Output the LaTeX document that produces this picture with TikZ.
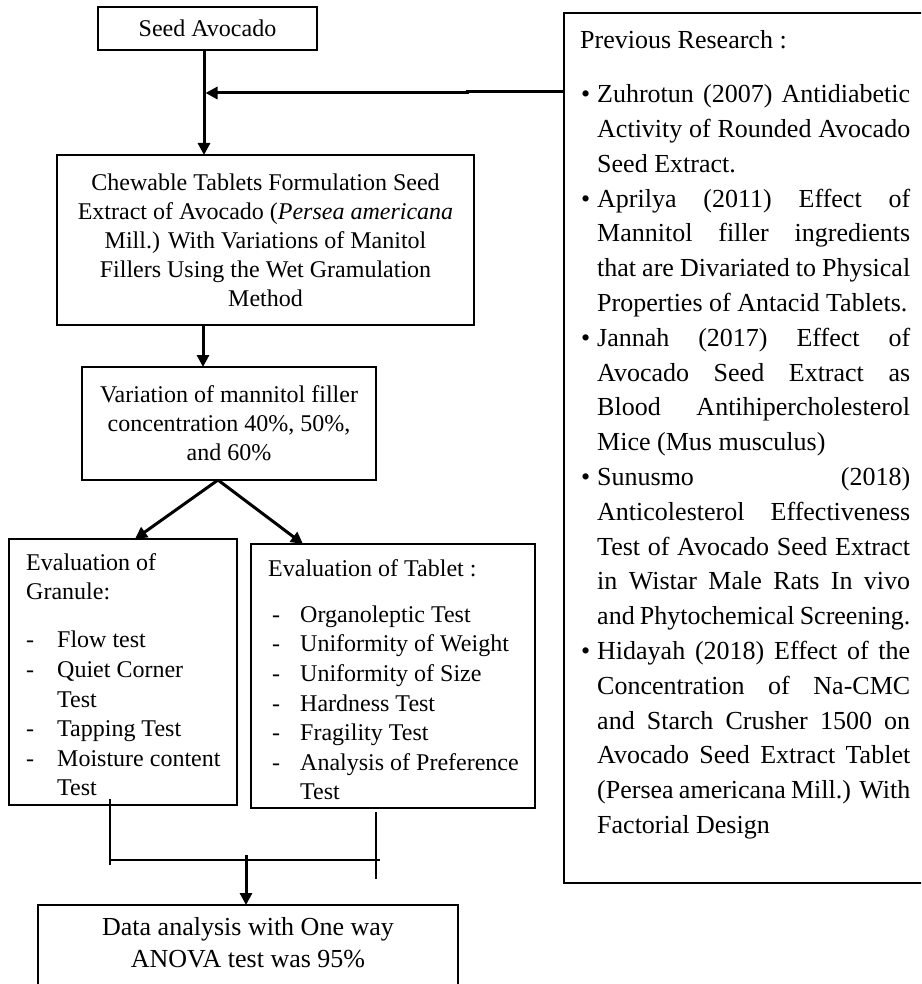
\documentclass[tikz,border=0pt]{standalone}
\usepackage{fontspec}
\setmainfont{Liberation Serif}
\usetikzlibrary{arrows.meta}
\newcommand\bitem{\hangindent=17pt\hangafter=1\noindent\makebox[17pt][l]{\hspace{1pt}\textbullet}}
\begin{document}
\begin{tikzpicture}[x=1pt,y=-1pt,
  box/.style={draw, line width=1.5pt, inner sep=0pt, outer sep=0pt},
  ctext/.style={align=center, font=\fontsize{24}{29}\selectfont},
  ltext/.style={inner sep=0pt, anchor=north west, align=left, font=\fontsize{24}{29.6}\selectfont},
  arr/.style={line width=3pt, -{Triangle[length=12pt,width=12pt]}},
  thinline/.style={line width=1.3pt}]
\clip (0,0) rectangle (921,984);
% boxes
\node[box, minimum width=219pt, minimum height=43pt, ctext] (seed) at (207.5,28.5) {Seed Avocado};
\node[box, minimum width=417pt, minimum height=170pt, ctext] (chew) at (265.5,240)
  {Chewable Tablets Formulation Seed\\ Extract of Avocado (\textit{Persea americana}\\ Mill.) With Variations of Manitol\\ Fillers Using the Wet Gramulation\\ Method};
\node[box, minimum width=294pt, minimum height=113pt, ctext] (var) at (229,423.5)
  {Variation of mannitol filler\\ concentration 40\%, 50\%,\\ and 60\%};
\node[box, minimum width=228pt, minimum height=266pt] (gran) at (123,672) {};
\node[box, minimum width=284pt, minimum height=264pt] (tab) at (393,676) {};
\node[box, minimum width=420pt, minimum height=100pt] (data) at (248,955) {};
\node[box, minimum width=420pt, minimum height=870pt] (prev) at (774,448) {};
% texts
\node[ltext] (grant) at (26,550) {\rule{0pt}{20pt}Evaluation of\\ Granule:\\[18.4pt]
  \makebox[31pt][l]{-}Flow test\\
  \makebox[31pt][l]{-}Quiet Corner\\
  \hspace*{31pt}Test\\
  \makebox[31pt][l]{-}Tapping Test\\
  \makebox[31pt][l]{-}Moisture content\\
  \hspace*{31pt}Test};
\node[ltext] (tabt) at (268,556) {\rule{0pt}{20pt}Evaluation of Tablet :\\[16.4pt]
  \makebox[32pt][l]{\hspace{4pt}-}Organoleptic Test\\
  \makebox[32pt][l]{\hspace{4pt}-}Uniformity of Weight\\
  \makebox[32pt][l]{\hspace{4pt}-}Uniformity of Size\\
  \makebox[32pt][l]{\hspace{4pt}-}Hardness Test\\
  \makebox[32pt][l]{\hspace{4pt}-}Fragility Test\\
  \makebox[32pt][l]{\hspace{4pt}-}Analysis of Preference\\
  \hspace*{32pt}Test};
\node[align=center, inner sep=0pt, font=\fontsize{26}{32}\selectfont] (datat) at (248,943)
  {Data analysis with One way\\ ANOVA test was 95\%};
\node[inner sep=0pt, anchor=north west, text width=330pt, align=justify,
      font=\fontsize{26}{34.8}\selectfont] (prevt) at (580,28.5) {%
  \setlength\parindent{0pt}\hyphenpenalty=10000 \tolerance=10000
  \rule{0pt}{20pt}Previous Research :\par
  \vspace{19.2pt}
  \bitem Zuhrotun (2007) Antidiabetic\linebreak Activity of Rounded Avocado\linebreak Seed Extract.\par
  \bitem Aprilya (2011) Effect of\linebreak Mannitol filler ingredients\linebreak that are Divariated to Physical\linebreak Properties of Antacid Tablets.\par
  \bitem Jannah (2017) Effect of\linebreak Avocado Seed Extract as\linebreak Blood Antihipercholesterol\linebreak Mice (Mus musculus)\par
  \bitem Sunusmo (2018)\linebreak Anticolesterol Effectiveness\linebreak Test of Avocado Seed Extract\linebreak in Wistar Male Rats In vivo\linebreak and Phytochemical Screening.\par
  \bitem Hidayah (2018) Effect of the\linebreak Concentration of Na-CMC\linebreak and Starch Crusher 1500 on\linebreak Avocado Seed Extract Tablet\linebreak (Persea americana Mill.) With\linebreak Factorial Design\par};
% connectors
\coordinate (join) at (205.5,93);
\draw[arr] ([xshift=-3.5pt]seed.south) -- ([xshift=-3.5pt]seed.south |- chew.north);
\draw[arr] (prev.west |- 0,91.5) -- (467,91.5) -- (467,93) -- (join);
\draw[arr] ([xshift=-62.5pt]chew.south) -- ([xshift=-62.5pt]chew.south |- var.north);
\draw[arr] ([xshift=-11pt]var.south) -- ([xshift=12pt]gran.north);
\draw[arr] ([xshift=-11pt]var.south) -- ([xshift=-90pt]tab.north);
\coordinate (gA) at (110,799);
\coordinate (gB) at (110,865);
\coordinate (hL) at (110,860);
\coordinate (hR) at (380,860);
\coordinate (tA) at (376,812);
\coordinate (tB) at (376,879);
\coordinate (mA) at (246,855);
\draw[thinline] (gA) -- (gB);
\draw[thinline] (hL) -- (hR);
\draw[thinline] (tA) -- (tB);
\draw[arr] (mA) -- (mA |- data.north);
\end{tikzpicture}
\end{document}
